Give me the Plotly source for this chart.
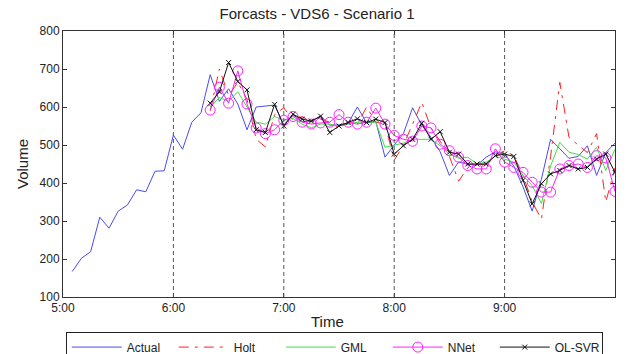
import pandas as pd
import plotly.graph_objects as go

# ---- data (5-minute intervals) ----
actual = [167, 202, 219, 310, 281, 326, 342, 382, 377, 431, 432, 526,
          489, 560, 585, 685, 615, 648, 608, 540, 600, 602, 605, 553,
          580, 562, 562, 576, 552, 553, 558, 600, 558, 562, 468, 500,
          530, 598, 552, 520, 482, 420, 455, 450, 447, 468, 482, 476,
          445, 390, 326, 410, 515, 490, 465, 470, 498, 420, 480, 505]
holt = [590, 700, 630, 665, 620, 515, 495, 580, 598,
        565, 575, 560, 568, 560, 545, 560, 555, 600, 560, 555, 460,
        500, 555, 612, 545, 510, 470, 405, 440, 450, 448, 470, 485,
        472, 420, 350, 305, 470, 665, 520, 500, 480, 530, 350, 440]
gml = [600, 625, 615, 640, 600, 560, 555, 575, 565,
       570, 555, 545, 555, 555, 550, 555, 560, 560, 560, 494, 500,
       505, 515, 515, 515, 498, 476, 465, 468, 450, 455, 470, 463,
       455, 420, 393, 346, 445, 507, 481, 475, 463, 494, 433, 489]
nnet = [592, 652, 610, 695, 608, 545, 530, 540, 565,
        575, 560, 555, 558, 560, 580, 560, 555, 560, 597, 555, 525,
        515, 510, 550, 545, 502, 485, 468, 446, 437, 437, 490, 455,
        441, 428, 402, 376, 376, 437, 446, 450, 441, 472, 466, 378]
olsvr = [610, 640, 717, 667, 645, 540, 533, 607, 550,
         581, 568, 563, 576, 533, 550, 559, 569, 559, 568, 559, 476,
         498, 515, 557, 515, 535, 481, 476, 450, 450, 450, 472, 476,
         470, 407, 345, 398, 424, 433, 446, 437, 441, 463, 476, 428]

times = pd.date_range("2013-01-01 05:05", periods=len(actual), freq="5min")
fc_times = times[len(actual) - len(olsvr):]
hour_marks = ["2013-01-01 06:00", "2013-01-01 07:00", "2013-01-01 08:00", "2013-01-01 09:00"]
y_ticks = [100, 200, 300, 400, 500, 600, 700, 800]

fig = go.Figure()
fig.add_trace(go.Scatter(x=times, y=actual, name="Actual", mode="lines",
                         line=dict(color="#4b4bf0", width=1)))
fig.add_trace(go.Scatter(x=fc_times, y=holt, name="Holt", mode="lines",
                         line=dict(color="#ff2020", width=1, dash="10px,6px,3px,6px")))
fig.add_trace(go.Scatter(x=fc_times, y=gml, name="GML", mode="lines",
                         line=dict(color="#40e040", width=1)))
fig.add_trace(go.Scatter(x=fc_times, y=nnet, name="NNet", mode="lines+markers",
                         line=dict(color="#ff20ff", width=1),
                         marker=dict(symbol="circle-open", size=10, color="#ff20ff",
                                     line=dict(width=1))))
fig.add_trace(go.Scatter(x=fc_times, y=olsvr, name="OL-SVR", mode="lines+markers",
                         line=dict(color="#111111", width=1),
                         marker=dict(symbol="x-thin-open", size=5, color="#111111",
                                     line=dict(width=1, color="#111111"))))

for h in hour_marks:
    fig.add_shape(type="line", xref="x", yref="paper", x0=h, x1=h, y0=0, y1=1,
                  line=dict(color="#555555", width=1, dash="4px,3px"))

fig.update_layout(
    width=629, height=354,
    margin=dict(l=63, r=14, t=31, b=57, autoexpand=False),
    paper_bgcolor="white", plot_bgcolor="white",
    font=dict(family="Liberation Sans, Arial, sans-serif", color="#222222", size=12),
    title=dict(text="Forcasts - VDS6 - Scenario 1", x=0.504, xanchor="center",
               y=1 - 14 / 354, yanchor="middle",
               font=dict(size=15, color="#222222")),
    showlegend=True,
    legend=dict(orientation="h", x=0.005, xanchor="left", y=-0.13, yanchor="top",
                bordercolor="#222222", borderwidth=1, bgcolor="white",
                font=dict(size=12, color="#222222"),
                entrywidth=42, tracegroupgap=0, itemwidth=50),
    xaxis=dict(type="date", range=["2013-01-01 05:00", "2013-01-01 10:00"],
               dtick=3600000, tick0="2013-01-01 05:00", tickformat="%-H:%M",
               showgrid=False, zeroline=False, showline=True, linecolor="#333333",
               linewidth=1, mirror="ticks", ticks="inside", ticklen=4,
               tickcolor="#333333", tickfont=dict(size=12, color="#222222")),
    yaxis=dict(range=[100, 800], tickvals=y_ticks, showgrid=False, zeroline=False,
               showline=True, linecolor="#333333", linewidth=1, mirror="ticks",
               ticks="inside", ticklen=4, tickcolor="#333333",
               tickfont=dict(size=12, color="#222222")),
    annotations=[
        dict(text="Time", xref="paper", yref="paper", x=(327 - 63) / 552, y=(297 - 321.5) / 266,
             xanchor="center", yanchor="middle", showarrow=False,
             font=dict(size=15, color="#222222")),
        dict(text="Volume", xref="paper", yref="paper", x=(22 - 63) / 552, y=0.5,
             xanchor="center", yanchor="middle", showarrow=False, textangle=-90,
             font=dict(size=15, color="#222222")),
    ],
)

fig.write_html("out.html")
